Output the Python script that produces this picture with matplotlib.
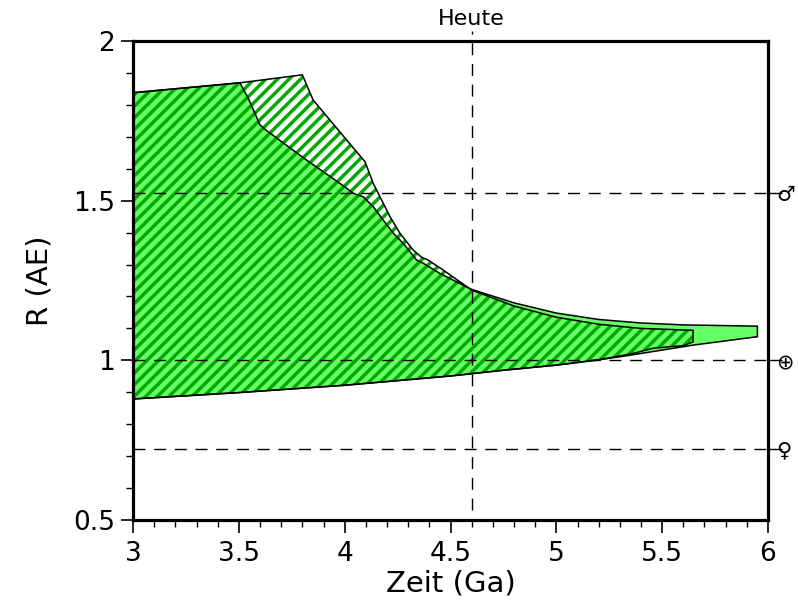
import numpy as np
import matplotlib
matplotlib.use('Agg')
import matplotlib.pyplot as plt
from matplotlib.collections import LineCollection
from matplotlib.patches import Polygon
from matplotlib.ticker import MultipleLocator

# habitable zone (solid green): upper edge, right end, lower edge
hz_upper_t = [3.0, 3.505, 3.545, 3.60, 3.63, 3.82, 3.978, 4.041, 4.088, 4.135, 4.182,
              4.23, 4.277, 4.34, 4.371, 4.45, 4.6, 4.8, 5.0, 5.2, 5.4, 5.6, 5.95]
hz_upper_r = [1.838, 1.869, 1.82, 1.737, 1.72, 1.627, 1.554, 1.523, 1.512, 1.481, 1.439,
              1.398, 1.366, 1.314, 1.304, 1.272, 1.222, 1.18, 1.148, 1.128, 1.117, 1.111, 1.107]
hz_lower_t = [3.0, 3.5, 4.0, 4.5, 4.75, 5.0, 5.3, 5.65, 5.95]
hz_lower_r = [0.879, 0.899, 0.922, 0.951, 0.969, 0.985, 1.011, 1.048, 1.074]

# continuously habitable zone (hatched)
chz_upper_t = [3.0, 3.505, 3.80, 3.851, 4.041, 4.096, 4.135, 4.167, 4.214, 4.261, 4.324,
               4.363, 4.394, 4.465, 4.6, 4.8, 5.0, 5.2, 5.4, 5.646]
chz_upper_r = [1.838, 1.869, 1.894, 1.815, 1.665, 1.622, 1.554, 1.512, 1.45, 1.398, 1.345,
               1.323, 1.314, 1.283, 1.22, 1.17, 1.135, 1.113, 1.100, 1.094]
chz_lower_t = [3.0, 3.5, 4.0, 4.5, 4.75, 5.0, 5.2, 5.364, 5.458, 5.60, 5.646]
chz_lower_r = [0.879, 0.899, 0.922, 0.951, 0.969, 0.985, 1.001, 1.022, 1.038, 1.046, 1.058]

today = 4.6
planet_r = [0.723, 1.0, 1.524]
planet_sym = ['\u2640', '\u2295', '\u2642']

x_ticks = [3, 3.5, 4, 4.5, 5, 5.5, 6]
x_labels = ['3', '3.5', '4', '4.5', '5', '5.5', '6']
y_ticks = [0.5, 1, 1.5, 2]
y_labels = ['0.5', '1', '1.5', '2']

light_green = '#66FF66'
dark_green = '#00AA00'
dash = (0, (8.6, 6.3))

fig = plt.figure(figsize=(7.98, 6.0), dpi=100)
ax = fig.add_axes([0.1667, 0.1333, 0.7957, 0.7984])
ax.set_xlim(3, 6)
ax.set_ylim(0.5, 2)


def outline(ut, ur, lt, lr):
    return np.column_stack([ut + lt[::-1], ur + lr[::-1]])


hz_xy = outline(hz_upper_t, hz_upper_r, hz_lower_t, hz_lower_r)
chz_xy = outline(chz_upper_t, chz_upper_r, chz_lower_t, chz_lower_r)

# green zone
ax.add_patch(Polygon(hz_xy, closed=True, facecolor=light_green, edgecolor='none', zorder=1))

# diagonal stripes, 45 degrees on screen, clipped to the hatched zone
clip = Polygon(chz_xy, closed=True, facecolor='none', edgecolor='none', transform=ax.transData)
ax.add_patch(clip)
W, H = 635.0, 479.0
step = 11.6
segs = []
for x0 in np.arange(-H - 3, W + step, step):
    segs.append([(x0 / W, 0.0), ((x0 + H) / W, 1.0)])
stripes = LineCollection(segs, colors=dark_green, linewidths=2.5, transform=ax.transAxes, zorder=2)
stripes.set_clip_path(clip)
ax.add_collection(stripes)

# outlines
ax.add_patch(Polygon(hz_xy, closed=True, facecolor='none', edgecolor='black', lw=1.1, zorder=3))
ax.add_patch(Polygon(chz_xy, closed=True, facecolor='none', edgecolor='black', lw=1.1, zorder=3))

# planet orbits
for r in planet_r:
    ax.plot([3, 6.066], [r, r], color='black', lw=1.0, linestyle=dash, clip_on=False, zorder=4)

# present day
ax.plot([today, today], [0.531, 2.031], color='black', lw=1.0, linestyle=dash, clip_on=False, zorder=4)
ax.text(today, 2.068, 'Heute', ha='center', va='center', fontsize=16)

ax.set_xticks(x_ticks)
ax.set_xticklabels(x_labels)
ax.set_yticks(y_ticks)
ax.set_yticklabels(y_labels)
ax.xaxis.set_minor_locator(MultipleLocator(0.1))
ax.yaxis.set_minor_locator(MultipleLocator(0.1))
ax.tick_params(which='major', direction='out', length=9, width=1.2, labelsize=19)
ax.tick_params(which='minor', direction='out', length=5, width=1.0)
ax.tick_params(axis='x', which='major', pad=6)
ax.tick_params(axis='y', which='major', pad=4)
ax.tick_params(top=False, right=False, which='both')

for sp in ax.spines.values():
    sp.set_linewidth(2.3)
    sp.set_zorder(5)

ax.set_xlabel('Zeit (Ga)', fontsize=21, labelpad=2)
ax.set_ylabel('R (AE)', fontsize=21, labelpad=14)

# planet symbols on the right axis
rax = ax.twinx()
rax.set_ylim(0.5, 2)
rax.set_yticks(planet_r)
rax.set_yticklabels(planet_sym)
rax.tick_params(axis='y', direction='out', length=5, width=1.0, labelsize=15, pad=1)
for sp in rax.spines.values():
    sp.set_visible(False)

fig.savefig('out.png', dpi=100)
